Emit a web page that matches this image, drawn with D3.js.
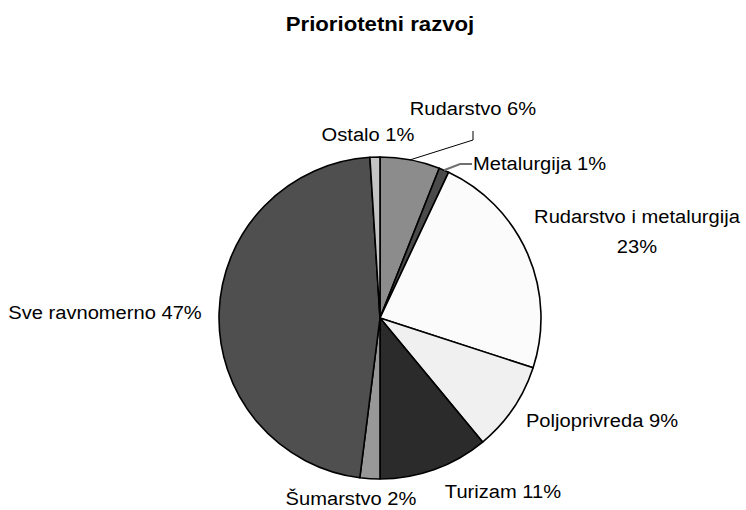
<!DOCTYPE html>
<html>
<head>
<meta charset="utf-8">
<script src="https://cdn.jsdelivr.net/npm/d3@7"></script>
<style>
  body { margin: 0; background: #fff; }
  svg text { font-family: "Liberation Sans", Arial, sans-serif; fill: #000; }
</style>
</head>
<body>
<svg id="chart"></svg>
<script>
const categories = ["Rudarstvo", "Metalurgija", "Rudarstvo i metalurgija", "Poljoprivreda",
  "Turizam", "Šumarstvo", "Sve ravnomerno", "Ostalo"];
const values = [6, 1, 23, 9, 11, 2, 47, 1];
const colors = ["#8c8c8c", "#4a4a4a", "#fbfbfb", "#f0f0f0", "#2b2b2b", "#989898", "#4f4f4f", "#c4c4c4"];

// label placement (center x, first baseline) - hand placed like the original
const labelPos = [
  [473, 115], [540, 170], [637, 223], [602, 427],
  [503, 498], [351, 505], [105, 319], [368, 141]
];
// leader line bend points for the two small slices with callouts
const leaders = { 0: [[473, 140], [473, 131]], 1: [[460, 164], [472, 164]] };

const width = 746, height = 510;
const cx = 380, cy = 318, radius = 161;

const svg = d3.select("#chart").attr("width", width).attr("height", height);

svg.append("text")
  .attr("transform", `translate(${cx},31) scale(1.11,1)`)
  .attr("text-anchor", "middle")
  .style("font-size", "20px")
  .style("font-weight", "bold")
  .text("Prioriotetni razvoj");

const pie = d3.pie().sort(null).value((d) => d);
const arc = d3.arc().innerRadius(0).outerRadius(radius);
const arcs = pie(values);

const g = svg.append("g").attr("transform", `translate(${cx},${cy})`);

g.selectAll("path")
  .data(arcs)
  .enter()
  .append("path")
  .attr("d", arc)
  .attr("fill", (d, i) => colors[i])
  .attr("stroke", "#000")
  .attr("stroke-width", 1.6)
  .attr("stroke-linejoin", "round");

// leader lines
Object.keys(leaders).forEach((k) => {
  const a = arcs[k];
  const mid = (a.startAngle + a.endAngle) / 2;
  const pts = [[cx + radius * Math.sin(mid), cy - radius * Math.cos(mid)]].concat(leaders[k]);
  svg.append("path")
    .attr("d", d3.line()(pts))
    .attr("fill", "none")
    .attr("stroke", k == 1 ? "#707070" : "#000")
    .attr("stroke-width", k == 1 ? 2 : 1);
});

// labels
const labelText = categories.map((c, i) => `${c} ${values[i]}%`);
labelText[2] = [categories[2], values[2] + "%"];

labelPos.forEach((p, i) => {
  const lines = Array.isArray(labelText[i]) ? labelText[i] : [labelText[i]];
  const anchor = i === 1 ? "start" : "middle";
  const x = i === 1 ? 473 : p[0];
  lines.forEach((t, j) => {
    svg.append("text")
      .attr("transform", `translate(${x},${p[1] + j * 30}) scale(1.06,1)`)
      .attr("text-anchor", anchor)
      .style("font-size", "19px")
      .text(t);
  });
});
</script>
</body>
</html>
